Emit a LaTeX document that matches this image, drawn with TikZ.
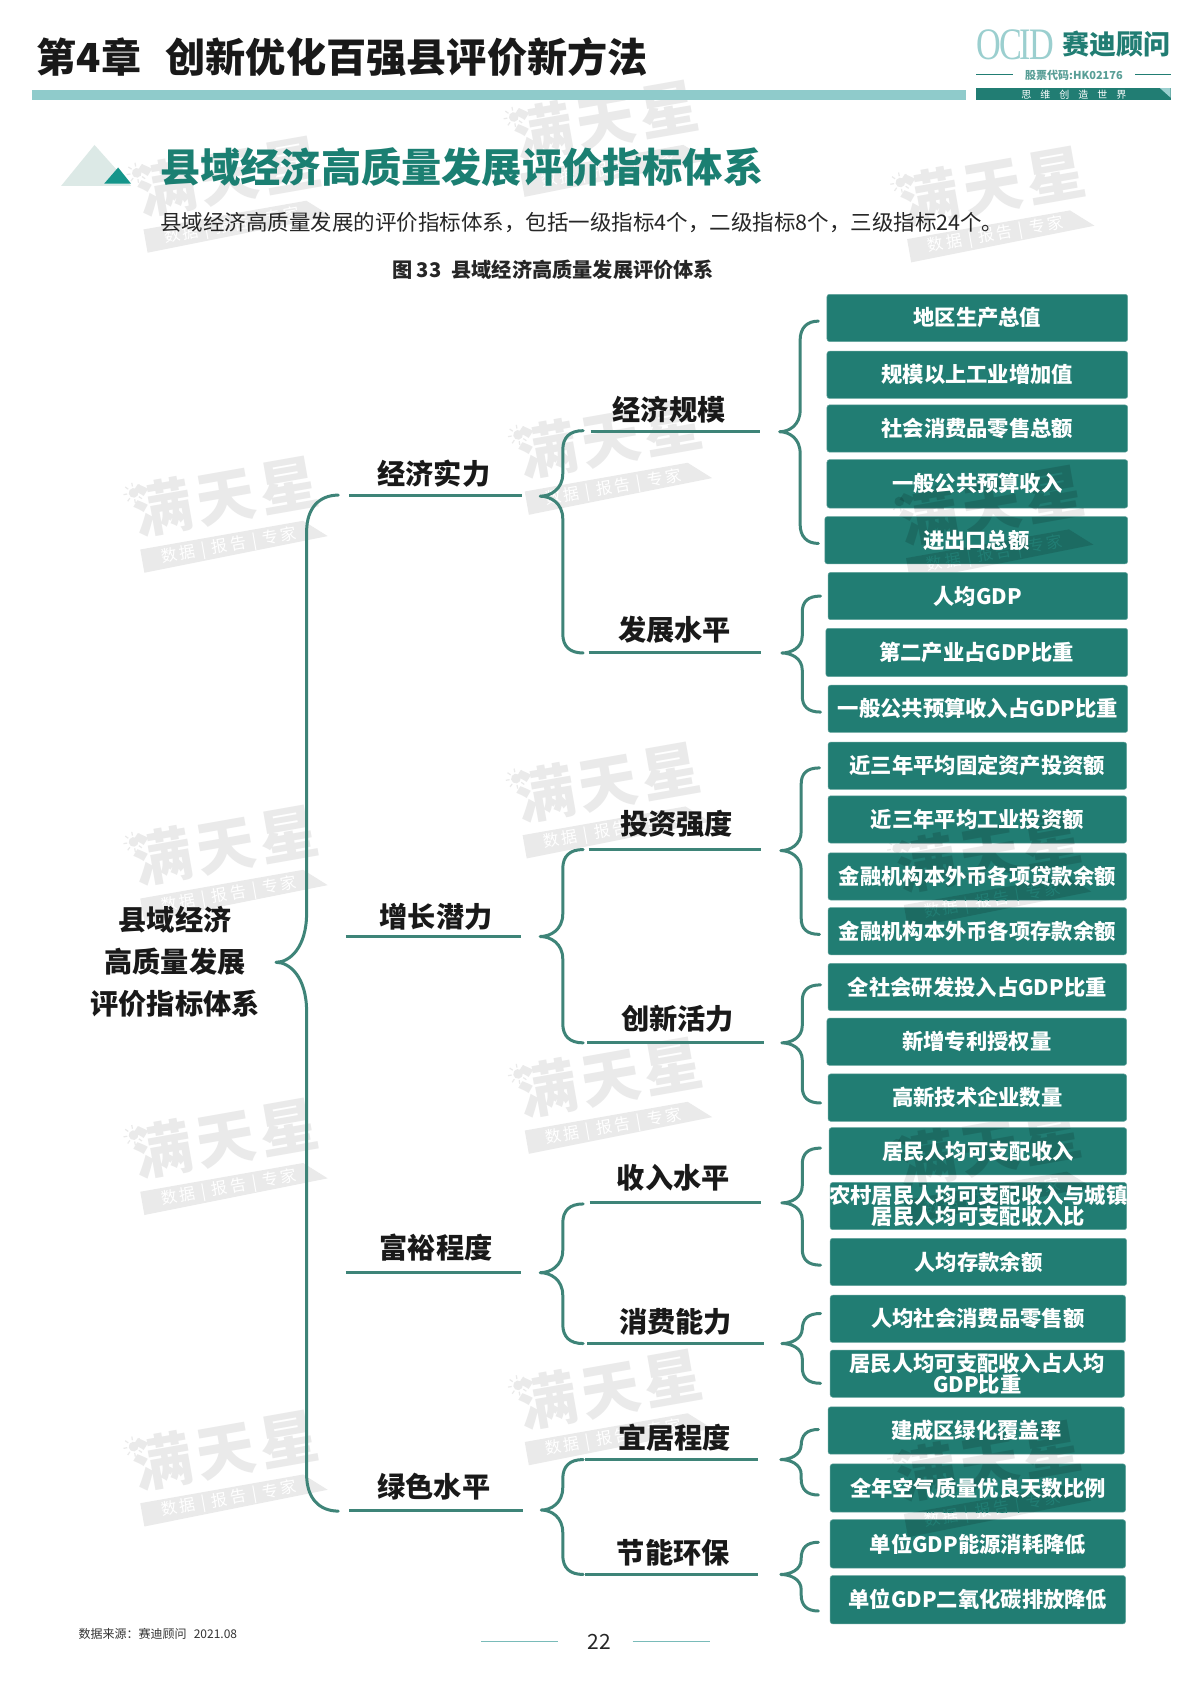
\documentclass[tikz,border=0pt]{standalone}
\usepackage{fontspec}
\setmainfont{Noto Sans CJK SC}
\newfontfamily\logoserif{Liberation Serif}
\usetikzlibrary{calc}
\definecolor{boxgreen}{HTML}{217D73}
\definecolor{linegreen}{HTML}{3E8478}
\definecolor{barteal}{HTML}{8FCBCB}
\definecolor{headgreen}{HTML}{1B7F72}
\definecolor{logoteal}{HTML}{9BCFCF}
\definecolor{wmgrey}{HTML}{EAEAEA}
\definecolor{tribig}{HTML}{DCE9E6}
\definecolor{trismall}{HTML}{14958A}
\newcommand{\fsz}[1]{\fontsize{#1}{#1}\selectfont}
\newcommand{\wmsubtext}{数\hspace{.15em}据\hspace{.4em}|\hspace{.4em}报\hspace{.15em}告\hspace{.4em}|\hspace{.4em}专\hspace{.15em}家}
\tikzset{
  boxfill/.style={fill=boxgreen,draw=boxgreen!70!white,line width=.5pt,rounded corners=2.5pt},
  termbox/.style={text=white,font=\fsz{21.3}\bfseries,inner sep=0pt,align=center},
  lvl/.style={text=black!90,font=\fsz{28.2}\bfseries,inner sep=0pt},
  conn/.style={draw=linegreen,line width=3pt},
  brc/.style={draw=linegreen,line width=3pt,line cap=round,line join=round},
  wmglyph/.style={inner sep=0pt,transform shape,font=\fsz{59}\bfseries\addfontfeature{LetterSpace=8}},
  wmsub/.style={inner sep=0pt,transform shape,font=\fsz{16}},
}
% name, x0, y0, x1, y1, text
\newcommand{\tbox}[6]{%
  \node[termbox,minimum width={(#4-#2)*1.074pt},minimum height={(#5-#3)*1.074pt}] (#1) at ({(#2+#4)/2},{(#3+#5)/2}) {#6};}
% x0,y0,x1,y1 : box body
\newcommand{\tfill}[4]{\path[boxfill] (#1,#2) rectangle (#3,#4);}
% name, text, cx, cy, x0, x1, yline
\newcommand{\lab}[7]{%
  \node[lvl] (#1) at (#3,#4) {#2};
  \coordinate (#1-a) at (#5,#7); \coordinate (#1-b) at (#6,#7);
  \draw[conn] (#1-a) -- (#1-b);}
% name, tipx, tipy, spinex, top, bottom, endx, halfheight, radius
\newcommand{\bracecurve}[9]{%
  \coordinate (#1-tip) at (#2,#3); \coordinate (#1-top) at (#7,#5); \coordinate (#1-bot) at (#7,#6);
  \draw[brc] (#1-top) .. controls ({#4+0.35*#9},#5) and (#4,{#5+0.35*#9}) .. (#4,{#5+#9})
    -- (#4,{#3-#8}) .. controls (#4,{#3-0.3*#8}) and ({#2+0.45*(#4-#2)},#3) .. (#1-tip)
    .. controls ({#2+0.45*(#4-#2)},#3) and (#4,{#3+0.3*#8}) .. (#4,{#3+#8})
    -- (#4,{#6-#9}) .. controls (#4,{#6-0.35*#9}) and ({#4+0.35*#9},#6) .. (#1-bot);}
% id,x,y : watermark on white paper
\newcommand{\wmark}[3]{%
  \begin{scope}[shift={(#2,#3)},rotate=10]
    \fill[wmgrey] (-86,19) -- (68,19) -- (88,37) -- (-86,41) -- cycle;
    \fill[wmgrey] (-83,-34) circle (4.5);
    \foreach \a in {0,45,...,315}{\draw[wmgrey,line width=1.2pt] ($(-83,-34)+(\a:6)$) -- ($(-83,-34)+(\a:9.5)$);}
    \node[wmglyph,text=wmgrey] (wm#1) at (1,-16) {满天星};
    \node[wmsub,text=white] (wt#1) at (-4,30) {\wmsubtext};
  \end{scope}}
% id,x,y : same watermark as a tint over the green boxes
\newcommand{\wmtint}[3]{%
  \begin{scope}[shift={(#2,#3)},rotate=10]
    \fill[black,opacity=.14] (-86,19) -- (68,19) -- (88,37) -- (-86,41) -- cycle;
    \fill[black,opacity=.14] (-83,-34) circle (4.5);
    \node[wmglyph,text=black,text opacity=.14] (wo#1) at (1,-16) {满天星};
    \node[wmsub,text=boxgreen] (wp#1) at (-4,30) {\wmsubtext};
  \end{scope}}
\begin{document}
\begin{tikzpicture}[x=1.074pt,y=-1.074pt]
\useasboundingbox (0,0) rectangle (1109,1568);
\fill[white] (0,0) rectangle (1109,1568);
% watermarks on the paper
\wmark{a}{215}{180}
\wmark{b}{212}{478}
\wmark{c}{212}{803}
\wmark{d}{212}{1076}
\wmark{e}{212}{1366}
\wmark{f}{566}{128}
\wmark{g}{570}{424}
\wmark{h}{568}{744}
\wmark{i}{570}{1019}
\wmark{j}{570}{1309}
\wmark{k}{926}{189}
\wmark{l}{925}{486}
\wmark{m}{923}{809}
\wmark{n}{923}{1084}
\wmark{o}{923}{1376}
% header
\node[anchor=west,inner sep=0pt,font=\fsz{40}\bfseries,text=black!90] (chap) at (34,53) {第4章};
\node[anchor=west,inner sep=0pt,font=\fsz{40.2}\bfseries,text=black!90] (title) at (154,53) {创新优化百强县评价新方法};
\fill[barteal] (30,84) rectangle (899,93);
% logo
\node[anchor=west,inner sep=0pt,text=logoteal,font=\logoserif\fsz{45}\addfontfeature{LetterSpace=-6},xscale=.76,transform shape] (ocid) at (909,42) {OCID};
\node[anchor=west,inner sep=0pt,text=boxgreen,font=\fsz{27}\bfseries] (logocn) at (989,41) {赛迪顾问};
\node[inner sep=0pt,text=boxgreen!75!white,font=\fsz{11}\bfseries] (stock) at (1000,70) {股票代码:HK02176};
\coordinate (ll1) at (909,69.5); \coordinate (ll2) at (943,69.5); \coordinate (lr1) at (1057,69.5); \coordinate (lr2) at (1090,69.5);
\draw[boxgreen,line width=1pt] (ll1) -- (ll2);
\draw[boxgreen,line width=1pt] (lr1) -- (lr2);
\fill[boxgreen] (909,82) -- (1090,82) -- (1090,93) -- (909,93) -- cycle;
\fill[logoteal] (1080,82) -- (1090,82) -- (1090,91) -- cycle;
\node[inner sep=0pt,text=white,font=\fsz{10}] (motto) at (1000,88) {思\hspace{.9em}维\hspace{.9em}创\hspace{.9em}造\hspace{.9em}世\hspace{.9em}界};
% section heading
\fill[tribig] (88,135) -- (57,173) -- (122,173) -- cycle;
\fill[trismall] (110,156) -- (97,171) -- (122,171) -- cycle;
\node[anchor=west,inner sep=0pt,font=\fsz{40.2}\bfseries,text=headgreen] (head) at (149,156) {县域经济高质量发展评价指标体系};
\node[anchor=west,inner sep=0pt,font=\fsz{21.5},text=black!85] (desc) at (149,207) {县域经济高质量发展的评价指标体系，包括一级指标4个，二级指标8个，三级指标24个。};
\node[inner sep=0pt,font=\fsz{20.2}\bfseries,text=black!85] (cap) at (515,251) {图 33\hspace{.5em}县域经济高质量发展评价体系};
% root
\node[inner sep=0pt,font=\fontsize{28.2}{42}\selectfont\bfseries,text=black!90,align=center] (root) at (163,896) {县域经济\\高质量发展\\评价指标体系};
% braces
\bracecurve{b0}{257}{896}{285.5}{461}{1407}{315}{46}{34}
\bracecurve{b1}{503}{462}{524}{401}{608}{543}{21}{18}
\bracecurve{b2}{503}{872}{524}{791}{971}{543}{21}{18}
\bracecurve{b3}{503}{1185}{524}{1121}{1251}{543}{21}{18}
\bracecurve{b4}{504}{1406}{524}{1359}{1466}{543}{21}{18}
\bracecurve{c1}{726}{402}{745}{299}{506}{762}{20}{18}
\bracecurve{c2}{728}{608}{747}{555}{663}{764}{16}{15}
\bracecurve{c3}{727}{792}{746}{715}{870}{763}{18}{15}
\bracecurve{c4}{728}{971}{747}{917}{1027}{764}{16}{15}
\bracecurve{c5}{728}{1120}{747}{1069}{1178}{764}{16}{15}
\bracecurve{c6}{728}{1251}{747}{1223}{1288}{764}{14}{15}
\bracecurve{c7}{727}{1359}{746}{1331}{1392}{762}{14}{15}
\bracecurve{c8}{727}{1466}{746}{1436}{1500}{762}{14}{15}
% level 1
\lab{a1}{经济实力}{404}{441}{325}{486}{461}
\lab{a2}{增长潜力}{406}{854}{322}{485}{872}
\lab{a3}{富裕程度}{406}{1162}{322}{485}{1185}
\lab{a4}{绿色水平}{404}{1384}{325}{487}{1406}
% level 2
\lab{s1}{经济规模}{623}{381}{550}{708}{402}
\lab{s2}{发展水平}{628}{586}{548}{709}{608}
\lab{s3}{投资强度}{630}{767}{548}{709}{791}
\lab{s4}{创新活力}{631}{949}{547}{711}{971}
\lab{s5}{收入水平}{627}{1097}{549}{709}{1120}
\lab{s6}{消费能力}{629}{1231}{547}{711}{1251}
\lab{s7}{宜居程度}{628}{1339}{545}{706}{1359}
\lab{s8}{节能环保}{627}{1446}{545}{706}{1466}
% level 3 : bodies
\tfill{770}{274}{1050}{318}
\tfill{770}{327}{1050}{371}
\tfill{770}{377}{1050}{421}
\tfill{770}{428}{1050}{473}
\tfill{768}{481}{1050}{525}
\tfill{771}{533}{1050}{577}
\tfill{769}{585}{1050}{630}
\tfill{771}{638}{1050}{682}
\tfill{771}{691}{1049}{735}
\tfill{771}{741}{1049}{785}
\tfill{771}{794}{1049}{838}
\tfill{771}{845}{1049}{889}
\tfill{771}{897}{1049}{941}
\tfill{770}{948}{1049}{992}
\tfill{771}{1000}{1049}{1044}
\tfill{772}{1050}{1049}{1094}
\tfill{773}{1101}{1049}{1145}
\tfill{773}{1153}{1049}{1197}
\tfill{773}{1206}{1048}{1250}
\tfill{773}{1257}{1047}{1301}
\tfill{771}{1310}{1047}{1354}
\tfill{773}{1363}{1048}{1408}
\tfill{773}{1415}{1048}{1460}
\tfill{773}{1467}{1048}{1512}
% watermark tint on the boxes only
\begin{scope}
  \clip (770,428) rectangle (1050,473) (768,481) rectangle (1050,525)
        (771,741) rectangle (1049,785) (771,794) rectangle (1049,838) (771,845) rectangle (1049,889)
        (772,1050) rectangle (1049,1094) (773,1101) rectangle (1049,1145)
        (771,1310) rectangle (1047,1354) (773,1363) rectangle (1048,1408) (773,1415) rectangle (1048,1460);
  \wmtint{l}{925}{486}
  \wmtint{m}{923}{809}
  \wmtint{n}{923}{1084}
  \wmtint{o}{923}{1376}
\end{scope}
% level 3 : labels
\tbox{t1}{770}{274}{1050}{318}{地区生产总值}
\tbox{t2}{770}{327}{1050}{371}{规模以上工业增加值}
\tbox{t3}{770}{377}{1050}{421}{社会消费品零售总额}
\tbox{t4}{770}{428}{1050}{473}{一般公共预算收入}
\tbox{t5}{768}{481}{1050}{525}{进出口总额}
\tbox{t6}{771}{533}{1050}{577}{人均GDP}
\tbox{t7}{769}{585}{1050}{630}{第二产业占GDP比重}
\tbox{t8}{771}{638}{1050}{682}{一般公共预算收入占GDP比重}
\tbox{t9}{771}{691}{1049}{735}{近三年平均固定资产投资额}
\tbox{t10}{771}{741}{1049}{785}{近三年平均工业投资额}
\tbox{t11}{771}{794}{1049}{838}{金融机构本外币各项贷款余额}
\tbox{t12}{771}{845}{1049}{889}{金融机构本外币各项存款余额}
\tbox{t13}{771}{897}{1049}{941}{全社会研发投入占GDP比重}
\tbox{t14}{770}{948}{1049}{992}{新增专利授权量}
\tbox{t15}{771}{1000}{1049}{1044}{高新技术企业数量}
\tbox{t16}{772}{1050}{1049}{1094}{居民人均可支配收入}
\tbox{t17}{773}{1101}{1049}{1145}{农村居民人均可支配收入与城镇\\居民人均可支配收入比}
\tbox{t18}{773}{1153}{1049}{1197}{人均存款余额}
\tbox{t19}{773}{1206}{1048}{1250}{人均社会消费品零售额}
\tbox{t20}{773}{1257}{1047}{1301}{居民人均可支配收入占人均\\GDP比重}
\tbox{t21}{771}{1310}{1047}{1354}{建成区绿化覆盖率}
\tbox{t22}{773}{1363}{1048}{1408}{全年空气质量优良天数比例}
\tbox{t23}{773}{1415}{1048}{1460}{单位GDP能源消耗降低}
\tbox{t24}{773}{1467}{1048}{1512}{单位GDP二氧化碳排放降低}
% footer
\node[anchor=west,inner sep=0pt,font=\fsz{12},text=black!80] (src) at (73,1521) {数据来源：赛迪顾问\hspace{.6em}2021.08};
\node[inner sep=0pt,font=\fsz{21},text=black!85] (page) at (558,1529) {22};
\coordinate (f1) at (448,1528); \coordinate (f2) at (520,1528); \coordinate (f3) at (589,1528); \coordinate (f4) at (661,1528);
\draw[barteal!80!boxgreen,line width=1pt] (f1) -- (f2);
\draw[barteal!80!boxgreen,line width=1pt] (f3) -- (f4);
\end{tikzpicture}
\end{document}
